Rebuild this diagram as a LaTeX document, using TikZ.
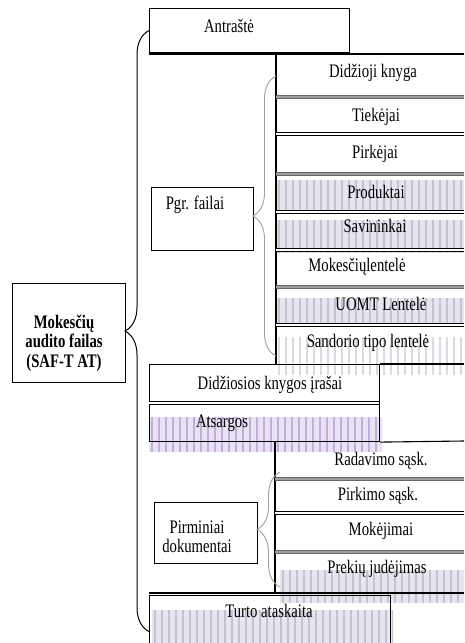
\documentclass[tikz,border=0pt]{standalone}
\usepackage{fontspec}
\setmainfont{Liberation Serif}
\usepackage{graphicx}
\usetikzlibrary{decorations.pathreplacing,calc}

\definecolor{lav}{RGB}{232,228,240}
\definecolor{lavdeep}{RGB}{234,226,244}
\definecolor{stripe}{RGB}{196,194,204}
\definecolor{stripepurple}{RGB}{190,176,216}
\definecolor{stripelight}{RGB}{218,218,224}

\tikzstyle{box}=[draw, line width=1.1pt, inner sep=0pt, anchor=north west]
\tikzstyle{lbl}=[inner sep=0pt, font=\fontsize{14.7}{15}\selectfont]
\tikzstyle{sepgray}=[draw=gray!80!black, line width=0.9pt, double=gray!75, double distance=1.3pt]
\tikzstyle{sepdbl}=[draw=black, line width=0.9pt, double=white, double distance=1.3pt]
\tikzstyle{bigbrace}=[decorate, decoration={brace, amplitude=24pt}, line width=1pt]
\tikzstyle{smallbrace}=[decorate, decoration={brace, amplitude=23pt}, draw=gray!75, line width=0.9pt]

\newcommand{\txt}[1]{\scalebox{1}[1.3]{\begin{tabular}{@{}c@{}}#1\end{tabular}}}
\newcommand{\hatch}[6]{
  \begin{scope}
    \clip (#1,#2) rectangle (#3,#4);
    \fill[#5] (#1,#2) rectangle (#3,#4);
    \foreach \i in {0,...,46}
      \fill[#6] ({#1+2+7*\i},#2) rectangle ++(2.2,{#4-#2});
  \end{scope}
}

\begin{document}
\begin{tikzpicture}[x=1pt, y=-1pt]
\useasboundingbox (0,0) rectangle (464,643);

% shaded rows
\hatch{276}{180}{464}{212}{lav}{stripe}
\hatch{276}{220}{464}{253}{lav}{stripe}
\hatch{276}{298}{464}{325}{lav}{stripe}
\hatch{276}{337}{464}{375}{white}{stripelight}
\hatch{149}{417}{382}{452}{lavdeep}{stripepurple}
\hatch{280}{570}{464}{603}{lav}{stripe}
\hatch{152}{610}{393}{643}{lav}{stripe}

% boxes
\node[box, minimum width=200pt, minimum height=44pt] (ant) at (149,8) {};
\node[box, minimum width=113pt, minimum height=99pt] (main) at (12,283) {};
\node[box, minimum width=102pt, minimum height=63pt] (pgr) at (151,187) {};
\node[box, minimum width=230pt, minimum height=77pt] (dki) at (149,364) {};
\node[box, minimum width=103pt, minimum height=61pt] (pirm) at (154,502) {};
\node[box, minimum width=241pt, minimum height=72pt] (tur) at (149,595) {};

% column frames
\draw[line width=1.1pt] (149,54) -- (464,54);
\draw[line width=1.3pt] (276,54) -- (276,365);
\draw[line width=1.1pt] (dki.north east) -- (464,364);
\draw[line width=1.1pt] (dki.south east) -- (464,441);
\draw[line width=1.1pt] (275,441) -- (275,593);
\draw[line width=1.1pt] (149,593) -- (464,593);

% row separators
\draw[sepgray] (276,97) -- (464,97);
\draw[sepdbl] (276,134) -- (464,134);
\draw[sepgray] (276,174) -- (464,174);
\draw[sepdbl] (276,212) -- (464,212);
\draw[sepdbl] (276,250) -- (464,250);
\draw[sepgray] (276,287) -- (464,287);
\draw[sepdbl] (276,325) -- (464,325);
\draw[sepdbl] (149,403) -- (379,403);
\draw[sepgray] (275,479) -- (464,479);
\draw[sepdbl] (275,513) -- (464,513);
\draw[sepgray] (275,552) -- (464,552);

% labels
\node[lbl] (tmain) at (64,344) {\txt{\bfseries Mokesčių\\\bfseries audito failas\\\bfseries (SAF-T AT)}};
\node[lbl] (tant) at (229,29) {\txt{Antraštė}};
\node[lbl] (tpgr) at (195,206) {\txt{Pgr. failai}};
\node[lbl] (tdk) at (373,74) {\txt{Didžioji knyga}};
\node[lbl] (ttiek) at (376,118) {\txt{Tiekėjai}};
\node[lbl] (tpirk) at (375,155) {\txt{Pirkėjai}};
\node[lbl] (tprod) at (376,195) {\txt{Produktai}};
\node[lbl] (tsav) at (375,229) {\txt{Savininkai}};
\node[lbl] (tmok) at (357,268) {\txt{Mokesčiųlentelė}};
\node[lbl] (tuomt) at (381,307) {\txt{UOMT Lentelė}};
\node[lbl] (tsand) at (368,344) {\txt{Sandorio tipo lentelė}};
\node[lbl] (tdki) at (270,386) {\txt{Didžiosios knygos įrašai}};
\node[lbl] (tats) at (222,424) {\txt{Atsargos}};
\node[lbl] (tpirm) at (197,539) {\txt{Pirminiai\\dokumentai}};
\node[lbl] (trad) at (381,462) {\txt{Radavimo sąsk.}};
\node[lbl] (tpsask) at (378,497) {\txt{Pirkimo sąsk.}};
\node[lbl] (tmokej) at (381,532) {\txt{Mokėjimai}};
\node[lbl] (tprek) at (377,570) {\txt{Prekių judėjimas}};
\node[lbl] (ttur) at (269,614) {\txt{Turto ataskaita}};

% braces
\coordinate (pgrtop) at (276,76);
\coordinate (pgrbot) at (276,356);
\coordinate (pirmtop) at (280,472);
\coordinate (pirmbot) at (280,587);
\draw[smallbrace] (pgrbot) -- (pgrtop);
\draw[smallbrace] (pirmbot) -- (pirmtop);
\draw[bigbrace] (tur.west) -- (ant.west);

\end{tikzpicture}
\end{document}
